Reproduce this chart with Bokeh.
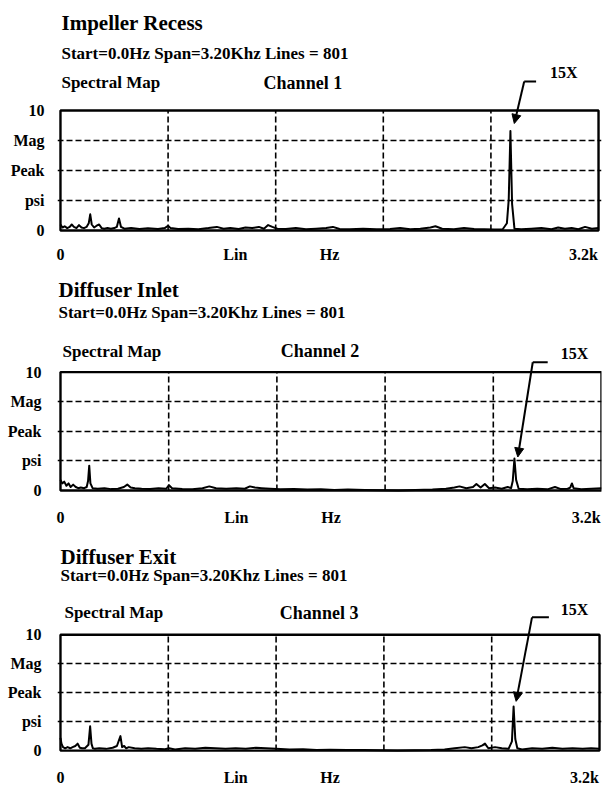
from bokeh.plotting import figure
from bokeh.layouts import column
from bokeh.models import Label, Arrow, NormalHead, FixedTicker, Range1d
from bokeh.embed import file_html
from bokeh.resources import INLINE

# ---------------- data ----------------
SPAN_HZ = 3200
MAG_MAX = 10
grid_freqs = [640, 1280, 1920, 2560]
grid_mags = [2.5, 5, 7.5]
mag_ticks = [0, 2.5, 5, 7.5, 10]
mag_tick_labels = ["0", "psi", "Peak", "Mag", "10"]
freq_label_pos = [0, 1040, 1600, 3110]
freq_tick_labels = ["0", "Lin", "Hz", "3.2k"]

titles = ["Impeller Recess", "Diffuser Inlet", "Diffuser Exit"]
channels = ["Channel 1", "Channel 2", "Channel 3"]
header_text = "Start=0.0Hz Span=3.20Khz Lines = 801"
map_text = "Spectral Map"
peak_text = "15X"

freq_impeller = [0, 12, 25, 40, 55, 67, 80, 95, 110, 125, 140, 155, 168, 177, 186, 200, 215, 230, 245, 260,
                 280, 300, 320, 335, 348, 360, 380, 420, 470, 520, 580, 620, 640, 655, 700, 760, 820, 880, 930, 970,
                 1010, 1060, 1100, 1140, 1180, 1210, 1235, 1260, 1290, 1340, 1400, 1460, 1520, 1580, 1620, 1660, 1720, 1800, 1880, 1960,
                 2020, 2080, 2140, 2200, 2230, 2270, 2340, 2400, 2460, 2520, 2580, 2630, 2655, 2666, 2676, 2686, 2700, 2740, 2800, 2860,
                 2920, 2960, 3000, 3040, 3080, 3120, 3160, 3200]
mag_impeller = [0.5, 0.25, 0.35, 0.2, 0.3, 0.5, 0.3, 0.2, 0.45, 0.25, 0.2, 0.3, 0.6, 1.35, 0.5, 0.25, 0.4, 0.5, 0.2, 0.15,
                0.2, 0.15, 0.2, 0.3, 1.0, 0.3, 0.15, 0.2, 0.12, 0.18, 0.12, 0.2, 0.4, 0.2, 0.12, 0.15, 0.1, 0.2, 0.3, 0.15,
                0.2, 0.12, 0.25, 0.2, 0.3, 0.15, 0.45, 0.3, 0.15, 0.12, 0.2, 0.1, 0.15, 0.2, 0.3, 0.12, 0.1, 0.15, 0.1, 0.12,
                0.2, 0.1, 0.15, 0.25, 0.35, 0.15, 0.1, 0.2, 0.12, 0.1, 0.08, 0.1, 0.6, 2.6, 8.3, 2.2, 0.15, 0.1, 0.15, 0.2,
                0.1, 0.25, 0.15, 0.2, 0.1, 0.3, 0.15, 0.2]

freq_inlet = [0, 10, 22, 35, 48, 60, 75, 90, 105, 120, 140, 155, 163, 170, 177, 190, 220, 260, 300, 340,
              375, 395, 415, 440, 480, 530, 580, 625, 642, 660, 720, 780, 840, 880, 920, 980, 1040, 1090, 1120, 1150,
              1190, 1240, 1300, 1380, 1460, 1540, 1620, 1700, 1800, 1900, 2000, 2100, 2200, 2280, 2330, 2360, 2400, 2440, 2460, 2485,
              2510, 2535, 2570, 2610, 2645, 2665, 2675, 2685, 2695, 2710, 2760, 2820, 2880, 2925, 2960, 3000, 3015, 3025, 3035, 3080,
              3140, 3200]
mag_inlet = [0.9, 0.6, 0.75, 0.4, 0.6, 0.3, 0.5, 0.3, 0.2, 0.25, 0.2, 0.3, 0.8, 2.1, 0.6, 0.2, 0.15, 0.2, 0.12, 0.15,
             0.3, 0.5, 0.25, 0.2, 0.15, 0.12, 0.2, 0.15, 0.45, 0.2, 0.12, 0.1, 0.2, 0.35, 0.2, 0.15, 0.2, 0.15, 0.35, 0.25,
             0.2, 0.15, 0.1, 0.12, 0.08, 0.1, 0.05, 0.08, 0.05, 0.02, 0.0, 0.05, 0.08, 0.15, 0.25, 0.35, 0.2, 0.3, 0.55, 0.25,
             0.55, 0.2, 0.25, 0.15, 0.3, 0.2, 0.8, 2.7, 0.9, 0.15, 0.1, 0.15, 0.1, 0.3, 0.12, 0.15, 0.25, 0.6, 0.2, 0.1,
             0.15, 0.2]

freq_exit = [0, 6, 15, 28, 42, 58, 72, 88, 102, 115, 128, 145, 166, 176, 184, 192, 205, 230, 270, 310,
             335, 356, 366, 378, 390, 405, 440, 480, 520, 570, 620, 645, 680, 740, 800, 860, 920, 980, 1040, 1100,
             1160, 1220, 1280, 1360, 1440, 1520, 1600, 1700, 1800, 1900, 2000, 2100, 2200, 2280, 2340, 2400, 2440, 2480, 2505, 2520,
             2540, 2580, 2620, 2660, 2680, 2690, 2700, 2712, 2740, 2800, 2860, 2920, 2980, 3040, 3100, 3150, 3200]
mag_exit = [1.1, 0.6, 0.3, 0.2, 0.3, 0.2, 0.3, 0.4, 0.6, 0.25, 0.2, 0.2, 0.5, 2.1, 0.6, 0.2, 0.15, 0.2, 0.15, 0.25,
            0.4, 1.25, 0.3, 0.4, 0.2, 0.3, 0.2, 0.15, 0.2, 0.15, 0.12, 0.2, 0.1, 0.2, 0.15, 0.25, 0.2, 0.15, 0.2, 0.15,
            0.25, 0.2, 0.15, 0.1, 0.12, 0.05, 0.08, 0.05, 0.05, 0.02, 0.0, 0.02, 0.05, 0.1, 0.2, 0.3, 0.2, 0.3, 0.45, 0.6,
            0.2, 0.3, 0.2, 0.15, 0.8, 3.8, 1.0, 0.2, 0.1, 0.2, 0.15, 0.25, 0.15, 0.2, 0.15, 0.2, 0.15]

series = [(freq_impeller, mag_impeller), (freq_inlet, mag_inlet), (freq_exit, mag_exit)]

# ---------------- layout (pixels, relative to each chart box's top-left) ----------------
FONT = "Liberation Serif"
FW, FH = 543, 120
PAD = 3
layouts = [
    dict(left=55, right=5, top=110, bottom=35, ystand=10, xstand=9,
         title=(1, -88), start=(1, -57), smap=(1, -28), chan=(205, -28), px=(494, -38),
         lead=[(480, -29), (468, -29), (458, 13)]),
    dict(left=60, right=0, top=108, bottom=35, ystand=13, xstand=12,
         title=(-2, -83), start=(-2, -60), smap=(2, -21), chan=(221, -21), px=(502, -19),
         lead=[(489, -10), (474, -10), (459, 86)]),
    dict(left=58, right=2, top=110, bottom=30, ystand=13, xstand=12,
         title=(0, -81), start=(0, -61), smap=(4, -23), chan=(221, -23), px=(504, -26),
         lead=[(492, -18), (475, -18), (459, 69)]),
]


def hz(dx):
    return dx / FW * SPAN_HZ


def mg(dy):
    return MAG_MAX - dy / FH * MAG_MAX


def make_panel(i):
    L = layouts[i]
    freq, mag = series[i]
    pad_l, pad_r, pad_b = PAD, min(PAD, L["right"]), PAD
    # the frame covers the header area too (so texts and the 15X leader are not clipped)
    p = figure(width=603, height=L["top"] + FH + L["bottom"], title=None,
               x_range=Range1d(hz(-pad_l), hz(FW + pad_r)),
               y_range=Range1d(mg(FH + pad_b), mg(-L["top"])),
               output_backend="svg", toolbar_location=None,
               min_border_left=L["left"] - pad_l, min_border_right=L["right"] - pad_r,
               min_border_top=0, min_border_bottom=L["bottom"] - pad_b)
    p.outline_line_color = None
    p.background_fill_color = "white"
    p.border_fill_color = "white"

    p.xgrid.visible = False
    p.ygrid.ticker = FixedTicker(ticks=grid_mags)
    p.ygrid.grid_line_color = "black"
    p.ygrid.grid_line_width = 1.6
    p.ygrid.grid_line_dash = "6 3"
    p.ygrid.bounds = (0, SPAN_HZ)

    # vertical dashed grid lines, limited to the chart box
    p.segment(x0=grid_freqs, y0=[0] * len(grid_freqs), x1=grid_freqs, y1=[MAG_MAX] * len(grid_freqs),
              line_color="black", line_width=1.6, line_dash="6 3")

    p.line(freq, mag, line_color="black", line_width=2, line_join="round")

    # chart box
    p.quad(left=[0], right=[SPAN_HZ], bottom=[0], top=[MAG_MAX],
           fill_color=None, line_color="black", line_width=2.4)

    p.xaxis.ticker = FixedTicker(ticks=freq_label_pos)
    p.xaxis.major_label_overrides = dict(zip(freq_label_pos, freq_tick_labels))
    p.xaxis.major_label_standoff = L["xstand"] - pad_b
    p.yaxis.ticker = FixedTicker(ticks=mag_ticks)
    p.yaxis.major_label_overrides = dict(zip(mag_ticks, mag_tick_labels))
    p.yaxis.major_label_standoff = L["ystand"] - pad_l
    for ax in (p.xaxis[0], p.yaxis[0]):
        ax.axis_line_color = None
        ax.major_tick_line_color = None
        ax.minor_tick_line_color = None
        ax.major_label_text_font = FONT
        ax.major_label_text_font_style = "bold"
        ax.major_label_text_font_size = "16px"
        ax.major_label_text_color = "black"

    def lab(pos, text, size):
        p.add_layout(Label(x=hz(pos[0]), y=mg(pos[1]), text=text,
                           text_font=FONT, text_font_style="bold", text_font_size=size,
                           text_color="black", text_align="left", text_baseline="middle"))

    lab(L["title"], titles[i], "21px")
    lab(L["start"], header_text, "17px")
    lab(L["smap"], map_text, "17px")
    lab(L["chan"], channels[i], "18px")
    lab(L["px"], peak_text, "16px")

    (ax0, ay0), (ax1, ay1), (ax2, ay2) = L["lead"]
    p.add_layout(Arrow(x_start=hz(ax0), y_start=mg(ay0), x_end=hz(ax1), y_end=mg(ay1),
                       end=None, line_color="black", line_width=2))
    p.add_layout(Arrow(x_start=hz(ax1), y_start=mg(ay1), x_end=hz(ax2), y_end=mg(ay2),
                       end=NormalHead(size=9, fill_color="black", line_color="black"),
                       line_color="black", line_width=2))
    return p


panels = [make_panel(i) for i in range(3)]
layout = column(*panels, spacing=0)

with open("out.html", "w") as f:
    f.write(file_html(layout, INLINE))
